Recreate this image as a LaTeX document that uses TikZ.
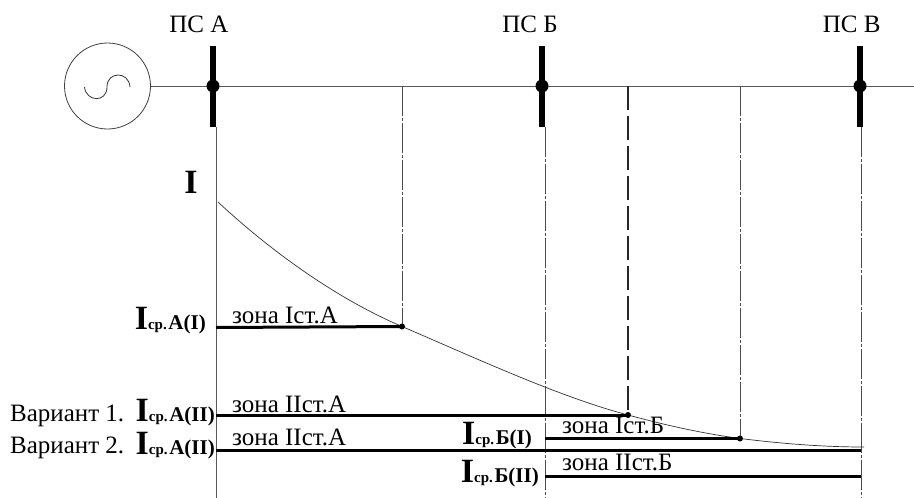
\documentclass[tikz,border=0pt]{standalone}
\usepackage{fontspec}
\setmainfont{Liberation Serif}
\tikzset{
 thinl/.style={draw=black!65,line width=0.8pt},
 dashl/.style={draw=black!70,line width=0.8pt,dash pattern=on 30pt off 2pt on 3pt off 2pt},
 dashb/.style={draw=black!85,line width=1.2pt,dash pattern=on 24pt off 6pt},
 bus/.style={draw=black,line width=5.5pt},
 zone/.style={draw=black,line width=3pt},
 dot/.style={circle,fill=black,inner sep=0pt,minimum size=#1},
 lab/.style={inner sep=0pt,anchor=base,font=\fontsize{25}{25}\selectfont},
 zt/.style={inner sep=0pt,font=\fontsize{25}{25}\selectfont,anchor=base west},
 cur/.style={inner sep=0pt,anchor=base east,font=\bfseries},
}
\newcommand{\curlab}[2]{{\fontsize{34}{34}\selectfont I}{\fontsize{15}{15}\selectfont ср.}\,{\fontsize{21}{21}\selectfont #1#2}}
\begin{document}
\begin{tikzpicture}[x=1pt,y=-1pt]
\useasboundingbox (0,0) rectangle (914,498);
% generator
\node[circle,draw=black!75,line width=0.8pt,minimum size=86pt,inner sep=0pt] (gen) at (107.5,86) {};
\draw[black!80,line width=0.8pt] (84.5,87) .. controls (86,102) and (107,103) .. (107,87) .. controls (107,71) and (129,71) .. (130,87);
% coordinates
\coordinate (end) at (914,86);
\coordinate (a) at (213,86); \coordinate (b) at (542,86); \coordinate (c) at (860,86);
\coordinate (a1) at (213,46); \coordinate (a2) at (213,127);
\coordinate (b1) at (542,46); \coordinate (b2) at (542,127);
\coordinate (c1) at (860,46); \coordinate (c2) at (860,127);
\draw[thinl] (gen) -- (end);
\draw[bus] (a1) -- (a2); \draw[bus] (b1) -- (b2); \draw[bus] (c1) -- (c2);
\node[dot=13pt] at (a) {}; \node[dot=13pt] at (b) {}; \node[dot=13pt] at (c) {};
\node[lab] (la) at (198.8,32) {ПС А};
\node[lab] (lb) at (530,32) {ПС Б};
\node[lab] (lc) at (851.7,32) {ПС В};
% verticals
\coordinate (va) at (216,127); \coordinate (vab) at (216,498);
\draw[thinl] (va) -- (vab);
\coordinate (p1) at (402,326.5); \coordinate (p2) at (628,415); \coordinate (p3) at (740,438.5); \coordinate (p4) at (861,447);
\coordinate (vb) at (545,127); \coordinate (vbb) at (545,498);
\coordinate (v1) at (402,86); \coordinate (v2) at (628,86); \coordinate (v3) at (740,86); \coordinate (v4) at (861,127); \coordinate (v4b) at (861,498);
\draw[dashl] (v1) -- (p1);
\draw[dashl] (vb) -- (vbb);
\draw[dashb] (v2) -- (p2);
\draw[dashl] (v3) -- (p3);
\draw[dashl] (v4) -- (v4b);
% curve
\coordinate (s) at (218,202);
\draw[black!80,line width=0.7pt] (s) .. controls (275,255) and (340,300) .. (402,326.5) .. controls (480,360) and (560,397) .. (628,415) .. controls (665,425) and (700,433) .. (740,438.5) .. controls (785,444) and (825,447) .. (864,447);
% zones
\coordinate (z1a) at (216,327.5);
\draw[zone] (z1a) -- (p1); \node[dot=6pt] at (p1) {};
\coordinate (z2a) at (216,415);
\draw[zone] (z2a) -- (p2); \node[dot=6pt] at (p2) {};
\coordinate (z3a) at (216,450); \coordinate (z3b) at (861,450);
\draw[zone] (z3a) -- (z3b);
\coordinate (z4a) at (545,438.5);
\draw[zone] (z4a) -- (p3); \node[dot=6pt] at (p3) {};
\coordinate (z5a) at (545,476.5); \coordinate (z5b) at (861,476.5);
\draw[zone] (z5a) -- (z5b);
% zone labels
\node[zt] at (232,323) {зона Iст.А};
\node[zt] at (232,412) {зона IIст.А};
\node[zt] at (232,445) {зона IIст.А};
\node[zt] at (562,433) {зона Iст.Б};
\node[zt] at (562,470) {зона IIст.Б};
% current labels
\node[inner sep=0pt,anchor=base,font=\bfseries\fontsize{34}{34}\selectfont] (I) at (191,193) {I};
\node[cur] at (206,329) {\curlab{A}{(I)}};
\node[cur] at (215,421) {\curlab{A}{(II)}};
\node[cur] at (215,454) {\curlab{A}{(II)}};
\node[cur] at (532,444) {\curlab{Б}{(I)}};
\node[cur] at (539,482) {\curlab{Б}{(II)}};
\node[zt] at (10,421) {Вариант 1.};
\node[zt] at (10,453) {Вариант 2.};
\end{tikzpicture}
\end{document}
